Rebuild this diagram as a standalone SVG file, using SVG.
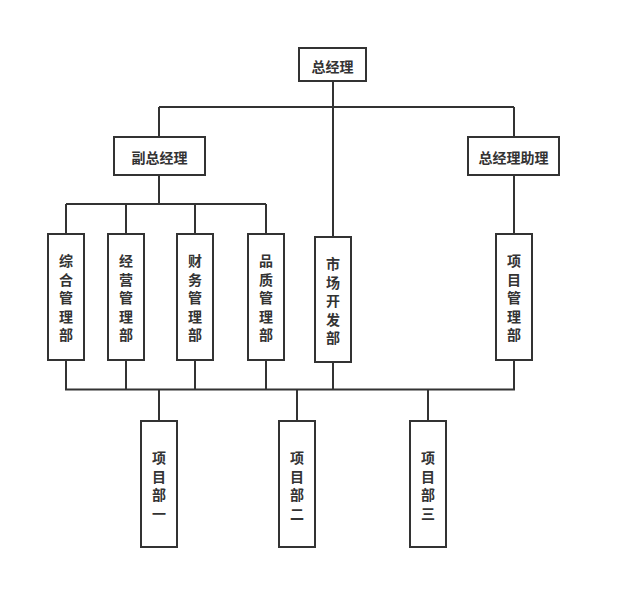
<svg xmlns="http://www.w3.org/2000/svg" width="621" height="609" viewBox="0 0 621 609">
<style>
rect.n{fill:#fff;stroke:#333;stroke-width:2}
.c path{fill:none;stroke:#333;stroke-width:2}
text{font-family:"Noto Sans CJK SC",sans-serif;font-size:14px;font-weight:bold;fill:#333;text-anchor:middle;dominant-baseline:central}
</style>
<rect width="621" height="609" fill="#fff"/>
<g class="c">
<path d="M333 81V237M159 107H514M159 107V137M514 107V137"/>
<path d="M159 175V204M66 204H266M66 204V234M126 204V234M195 204V234M266 204V234"/>
<path d="M514 175V234"/>
<path d="M66 360V389.5M126 360V389.5M195 360V389.5M266 360V389.5M333 362V389.5M514 360V389.5M65 389.5H515"/>
<path d="M159 389.5V421M297 389.5V421M428 389.5V421"/>
</g>
<g id="n0"><rect class="n" x="299" y="48" width="67" height="33"/><text x="332.5" y="65.5">总经理</text></g>
<g id="n1"><rect class="n" x="114" y="137" width="91" height="38"/><text x="159.5" y="156.5">副总经理</text></g>
<g id="n2"><rect class="n" x="468" y="137" width="91" height="38"/><text x="513.5" y="156.5">总经理助理</text></g>
<g id="n3"><rect class="n" x="48" y="234" width="36" height="126"/><text x="66"><tspan x="66" y="260">综</tspan><tspan x="66" y="278.5">合</tspan><tspan x="66" y="297">管</tspan><tspan x="66" y="315.5">理</tspan><tspan x="66" y="334">部</tspan></text></g>
<g id="n4"><rect class="n" x="108" y="234" width="36" height="126"/><text x="126"><tspan x="126" y="260">经</tspan><tspan x="126" y="278.5">营</tspan><tspan x="126" y="297">管</tspan><tspan x="126" y="315.5">理</tspan><tspan x="126" y="334">部</tspan></text></g>
<g id="n5"><rect class="n" x="177" y="234" width="36" height="126"/><text x="195"><tspan x="195" y="260">财</tspan><tspan x="195" y="278.5">务</tspan><tspan x="195" y="297">管</tspan><tspan x="195" y="315.5">理</tspan><tspan x="195" y="334">部</tspan></text></g>
<g id="n6"><rect class="n" x="248" y="234" width="36" height="126"/><text x="266"><tspan x="266" y="260">品</tspan><tspan x="266" y="278.5">质</tspan><tspan x="266" y="297">管</tspan><tspan x="266" y="315.5">理</tspan><tspan x="266" y="334">部</tspan></text></g>
<g id="n7"><rect class="n" x="315" y="237" width="36" height="125"/><text x="333"><tspan x="333" y="263">市</tspan><tspan x="333" y="281.5">场</tspan><tspan x="333" y="300">开</tspan><tspan x="333" y="318.5">发</tspan><tspan x="333" y="337">部</tspan></text></g>
<g id="n8"><rect class="n" x="496" y="234" width="36" height="126"/><text x="514"><tspan x="514" y="260">项</tspan><tspan x="514" y="278.5">目</tspan><tspan x="514" y="297">管</tspan><tspan x="514" y="315.5">理</tspan><tspan x="514" y="334">部</tspan></text></g>
<g id="n9"><rect class="n" x="141" y="421" width="36" height="126"/><text x="159"><tspan x="159" y="457">项</tspan><tspan x="159" y="475.5">目</tspan><tspan x="159" y="494">部</tspan><tspan x="159" y="512.5">一</tspan></text></g>
<g id="n10"><rect class="n" x="279" y="421" width="36" height="126"/><text x="297"><tspan x="297" y="457">项</tspan><tspan x="297" y="475.5">目</tspan><tspan x="297" y="494">部</tspan><tspan x="297" y="512.5">二</tspan></text></g>
<g id="n11"><rect class="n" x="410" y="421" width="36" height="126"/><text x="428"><tspan x="428" y="457">项</tspan><tspan x="428" y="475.5">目</tspan><tspan x="428" y="494">部</tspan><tspan x="428" y="512.5">三</tspan></text></g>
</svg>
